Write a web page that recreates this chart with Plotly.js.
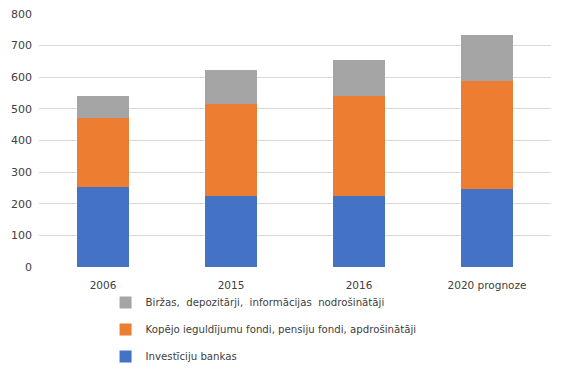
<!DOCTYPE html>
<html><head><meta charset="utf-8">
<script src="https://cdn.plot.ly/plotly-3.0.1.min.js"></script>
<style>body{margin:0;padding:0;background:#fff}#chart{width:565px;height:372px}</style>
</head><body><div id="chart"></div>
<script>
const categories = ["2006", "2015", "2016", "2020 prognoze"];
const bankas = [252, 225, 225, 247];
const fondi = [219, 290, 316, 342];
const birzas = [69, 107, 112, 144];
const names = ["Investīciju bankas", "Kopējo ieguldījumu fondi, pensiju fondi, apdrošinātāji", "Biržas,  depozitārji,  informācijas  nodrošinātāji"];
const colors = ["#4472C4", "#ED7D31", "#A5A5A5"];
const series = [bankas, fondi, birzas];
const traces = series.map((v, i) => ({
  type: "bar", x: categories, y: v, name: names[i], legendgroup: "g" + i, legendrank: 3 - i,
  marker: {color: colors[i]}, width: 0.4, hoverinfo: "none"
}));
const layout = {
  width: 565, height: 372, barmode: "stack",
  margin: {l: 39, r: 14, t: 14, b: 105},
  paper_bgcolor: "#fff", plot_bgcolor: "#fff",
  font: {family: "DejaVu Sans, Verdana, sans-serif", size: 11, color: "#404040"},
  xaxis: {type: "category", showgrid: false, zeroline: false, showline: false, ticks: "",
          tickfont: {size: 10.5}, ticklabelstandoff: 10},
  yaxis: {range: [0, 800], dtick: 100, gridcolor: "#d9d9d9", gridwidth: 1, zeroline: false,
          showline: false, ticks: "", tickfont: {size: 11}, ticklabelstandoff: 6},
  showlegend: true,
  legend: {orientation: "v", x: 0.13, xanchor: "left", yref: "container", y: 0.226, yanchor: "top",
           traceorder: "grouped", tracegroupgap: 8,
           font: {size: 10.2, color: "#404040"}, itemwidth: 30,
           bgcolor: "rgba(0,0,0,0)"}
};
Plotly.newPlot("chart", traces, layout, {staticPlot: true});
</script></body></html>
